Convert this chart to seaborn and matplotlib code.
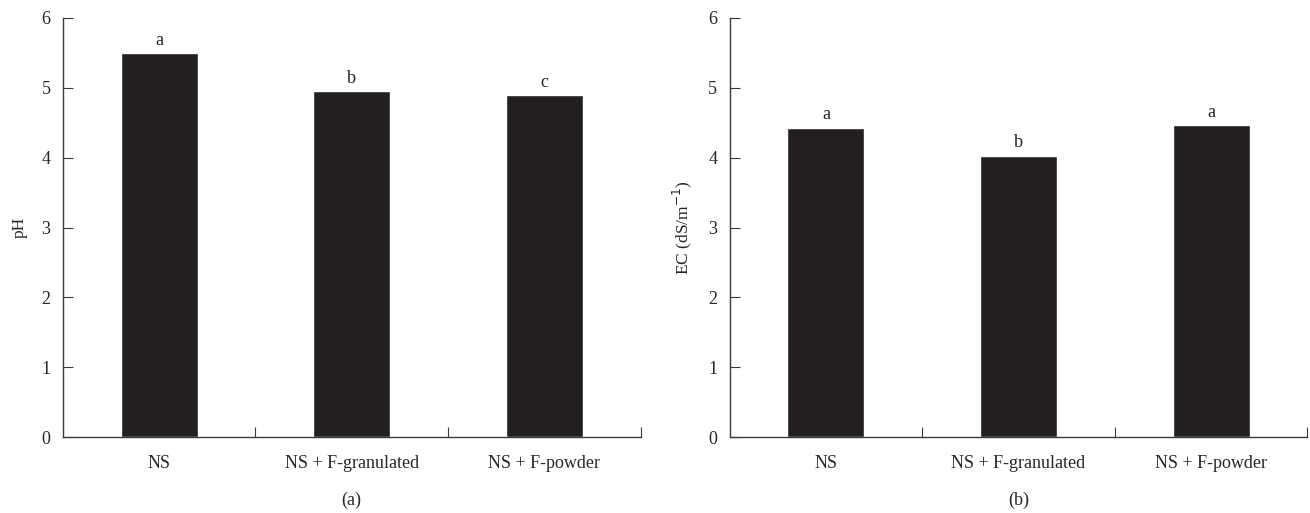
import matplotlib
matplotlib.use('Agg')
import matplotlib.pyplot as plt
import seaborn as sns
import pandas as pd

categories = ['NS', 'NS + F-granulated', 'NS + F-powder']
ph_values = [5.50, 4.95, 4.90]
ph_letters = ['a', 'b', 'c']
ec_values = [4.43, 4.03, 4.47]
ec_letters = ['a', 'b', 'a']

sns.set_style('ticks')
plt.rcParams['font.family'] = ['Liberation Serif', 'DejaVu Serif']

BAR_COLOR = '#231f20'
AXIS_COLOR = '#3a3a3a'

fig = plt.figure(figsize=(13.1, 5.13), dpi=100)
ax1 = fig.add_axes([0.048, 0.148, 0.441, 0.817])
ax2 = fig.add_axes([0.557, 0.148, 0.441, 0.817])


def draw_panel(ax, values, letters, ylabel, tag):
    df = pd.DataFrame({'treatment': categories, 'value': values})
    sns.barplot(data=df, x='treatment', y='value', color=BAR_COLOR,
                width=0.4, saturation=1, ax=ax)
    for i, (v, lab) in enumerate(zip(values, letters)):
        ax.text(i, v + 0.06, lab, ha='center', va='bottom', fontsize=13,
                color='#222222')

    ax.set_xlim(-0.5, 2.5)
    ax.set_ylim(0, 6)
    ax.set_yticks(range(0, 7))
    # boundary ticks between categories, labels sit on minor ticks
    ax.set_xticks([0.5, 1.5, 2.5])
    ax.set_xticklabels([])
    ax.set_xticks([0, 1, 2], minor=True)
    ax.set_xticklabels(categories, minor=True)
    ax.tick_params(axis='x', which='minor', length=0, pad=13, labelsize=13)
    ax.tick_params(axis='x', which='major', direction='in', length=7,
                   color=AXIS_COLOR)
    ax.tick_params(axis='y', direction='in', length=7, color=AXIS_COLOR,
                   labelsize=13, pad=9)

    ax.set_xlabel('')
    ax.set_ylabel(ylabel, fontsize=12.5, labelpad=10)
    sns.despine(ax=ax)
    for side in ['left', 'bottom']:
        ax.spines[side].set_color(AXIS_COLOR)
        ax.spines[side].set_linewidth(1.0)

    ax.text(0.5, -0.15, tag, transform=ax.transAxes, ha='center',
            va='center', fontsize=13)


draw_panel(ax1, ph_values, ph_letters, 'pH', '(a)')
draw_panel(ax2, ec_values, ec_letters, r'EC (dS/m$^{-1}$)', '(b)')

fig.savefig('out.png', dpi=100)
